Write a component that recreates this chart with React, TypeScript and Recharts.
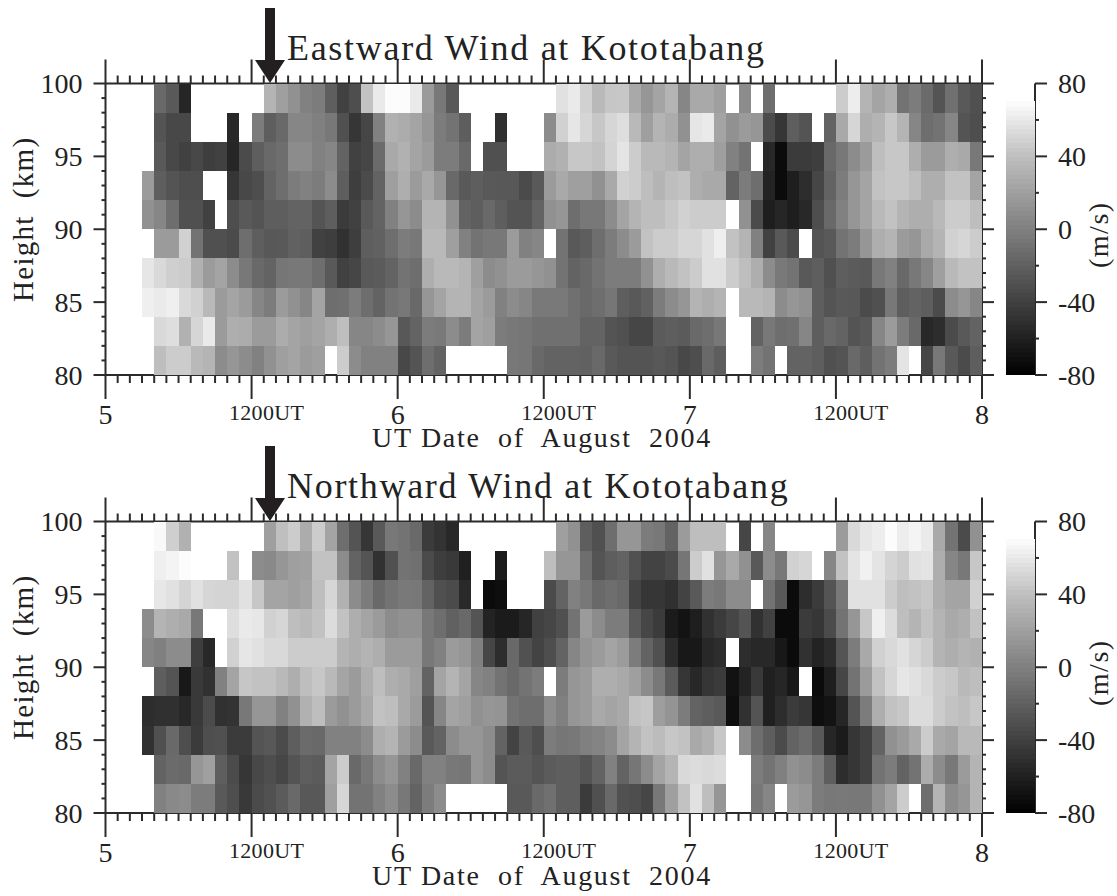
import React from 'react';
import { ScatterChart, Scatter, XAxis, YAxis } from 'recharts';

const _ = null;

// winds in m/s, one row per 2 km height bin, top row is 98-100 km, one column per hour
const eastWind: (number | null)[][] = [
  [_,_,_,_,-14,-24,-56,_,_,_,_,_, _,33,20,11,1,-2,-21,-39,-31,42,67,78, 78,67,17,-5,-24,_,_,_,_,_,_,_, _,61,67,51,36,44,45,26,14,23,33,4, 26,26,20,_,8,_,-11,_,_,_,_,_, 48,69,33,23,29,-8,-2,-13,-27,-10,-24,-30],
  [_,_,_,_,-27,-35,-35,_,_,_,-55,_, -2,-21,-14,4,4,0,-5,-30,-46,-36,1,31, 28,23,14,-2,-8,-21,_,_,-50,_,_,_, 8,51,64,54,45,54,59,36,20,33,28,11, 64,67,23,11,17,14,-33,-46,-21,-27,_,-18, 26,54,29,33,45,33,4,-11,-8,4,-27,-31],
  [_,_,_,_,-24,-35,-39,-35,-41,-39,-56,-33, -21,-14,-11,8,8,1,4,-18,-39,-36,-13,26, 31,23,17,-2,-2,-14,_,-30,-30,_,_,_, 28,31,45,45,42,53,63,48,36,36,33,23, 29,29,20,1,-8,_,-55,-73,-43,-43,-41,-14, -5,8,17,39,45,45,29,17,17,29,26,-5],
  [_,_,_,17,-21,-27,-31,-31,_,_,-46,-35, -31,-18,-11,-2,1,-2,8,-21,-41,-33,-18,20, 29,17,26,14,-14,-24,-21,-24,-25,-25,-33,-24, 17,26,20,20,11,26,51,48,39,33,39,42, 29,26,26,-18,-2,-11,-58,-73,-61,-52,-36,-18, -2,14,23,42,45,45,39,29,29,42,42,23],
  [_,_,_,11,4,-11,-30,-30,-39,_,-31,-24, -27,-21,-21,-18,-18,-27,-21,-43,-39,-24,-18,1, 14,8,33,33,11,-18,-21,-14,-21,-27,-27,-18, 11,14,-11,-5,-5,8,23,33,39,39,45,51, 48,48,48,_,11,-33,-61,-56,-61,-55,-31,-14, 1,14,23,36,42,33,29,29,36,48,48,39],
  [_,_,_,_,17,17,51,-8,-30,-30,-33,-11, -21,-25,-24,-19,-21,-39,-41,-49,-41,-21,-19,-11, -2,-5,36,36,20,1,-8,-5,-5,17,1,4, _,-8,-24,-21,-11,-2,8,17,42,48,48,54, 54,61,70,42,33,1,-39,-24,-33,_,-27,-24, -8,-2,14,29,33,17,14,26,33,51,54,48],
  [_,_,_,64,56,50,48,31,17,23,8,-5, -14,-18,-6,-5,-5,-11,-24,-39,-36,-24,-23,-18, -8,-11,29,36,36,33,20,8,11,17,17,14, 11,-8,-18,-14,-8,-2,-2,-2,11,29,36,42, 48,61,61,48,39,29,8,-4,-8,-24,-21,-30, -21,-23,-24,-5,1,-14,-5,4,20,36,42,42],
  [_,_,_,70,67,70,56,51,36,17,23,17, 4,-2,17,11,4,23,-11,-10,-2,-11,-18,-8, -5,-14,14,23,33,33,23,17,1,8,4,-4, -4,-4,-10,-14,-11,-6,-21,-24,-19,-2,8,14, 33,29,33,_,36,36,33,8,14,11,-21,-27, -24,-25,-33,-30,-5,-21,-18,-21,-33,8,14,4],
  [_,_,_,_,56,59,31,54,67,17,29,28, 17,17,28,23,20,23,29,39,4,4,8,14, -25,-18,-2,-4,8,-2,23,20,-2,-5,-6,-10, -10,-10,-10,-18,-18,-27,-30,-36,-36,-23,-21,-23, -14,-11,-5,_,_,-18,-5,-11,-10,4,-21,-14, -18,-27,-24,4,17,-2,-14,-55,-52,-33,-24,-18],
  [_,_,_,_,39,48,48,36,33,8,14,8, 1,11,20,23,17,20,_,48,8,1,1,1, -35,-27,-11,-18,_,_,_,_,_,-5,-6,-14, -18,-18,-18,-19,-14,-24,-27,-27,-27,-25,-27,-35, -31,-14,-21,_,_,-2,-8,_,-18,-18,-21,-30, -27,-14,-21,-8,-2,63,_,-36,-5,-24,-33,-21],
];

const northWind: (number | null)[][] = [
  [_,_,_,_,76,50,31,_,_,_,_,_, _,20,40,48,28,48,23,-11,-27,-46,-24,-5, -8,-14,-43,-48,-55,_,_,_,_,_,_,_, _,20,11,-21,-30,-11,14,14,-2,-5,-18,17, 39,39,39,_,-36,_,4,_,_,_,_,_, 17,56,65,69,78,69,73,67,26,-8,-33,11],
  [_,_,_,_,70,73,78,_,_,_,42,_, 8,6,14,20,21,42,42,8,-18,-27,-49,-30, -8,-10,-33,-41,-44,-60,_,_,-63,_,_,_, 39,14,14,-11,-27,-21,-18,-29,-38,-38,-33,-6, 48,61,14,26,11,-24,8,-5,51,54,_,4, 42,63,71,63,53,48,61,63,29,4,-5,45],
  [_,_,_,_,65,61,53,61,54,53,53,61, 45,23,23,20,23,39,54,31,8,-2,-14,-8, -4,-5,-18,-30,-33,-54,_,-73,-71,_,_,_, -33,-18,1,-5,-14,-11,-14,-38,-46,-46,-50,-38, -24,-2,-5,8,8,_,-8,-24,-73,-52,-43,-27, -5,61,61,61,48,39,42,45,29,23,23,51],
  [_,_,_,8,33,29,26,-5,_,_,59,67, 65,51,54,39,36,42,58,42,29,23,17,8, 11,11,-5,-11,-19,-14,-27,-58,-63,-63,-56,-39, -36,-30,-8,17,8,-2,-2,-24,-36,-43,-63,-68, -61,-49,-43,-36,-27,-49,-39,-73,-73,-43,-46,-33, -8,14,45,70,58,39,33,42,33,26,29,42],
  [_,_,_,4,0,8,8,-41,-55,_,51,64, 61,56,56,48,48,48,48,33,29,33,29,17, 17,17,-5,1,17,14,1,-36,-52,-14,-29,-38, -31,-18,4,13,17,23,17,-2,-18,-30,-52,-65, -65,-55,-52,_,-52,-55,-55,-65,-73,-49,-58,-52, -27,-2,26,51,56,61,54,48,33,29,33,31],
  [_,_,_,_,-21,-27,-65,-44,-49,1,23,44, 42,42,36,29,39,45,36,23,17,29,39,29, 26,20,-18,23,33,23,4,1,-8,-14,-8,-2, _,-2,14,17,29,29,26,20,8,-5,-23,-46, -55,-46,-43,-69,-58,-44,-60,-56,-65,_,-73,-61, -36,-8,17,42,54,64,61,56,48,45,36,39],
  [_,_,_,-52,-50,-50,-55,-44,-33,-49,-48,-5, 14,14,1,11,31,39,17,11,17,26,42,39, 26,17,-27,4,23,20,11,14,13,-8,-11,-11, 8,0,14,17,26,23,26,42,44,19,13,-2, -18,-21,-24,-71,-49,-27,-60,-52,-43,-46,-71,-68, -56,-27,-2,29,42,45,58,58,48,42,39,45],
  [_,_,_,-49,-30,-14,-31,-43,-31,-30,-43,-43, -27,-25,-33,-21,-13,-14,1,1,1,8,29,33, 17,8,-24,-18,8,14,14,8,-18,-38,-24,-31, -2,-6,-5,0,3,8,23,33,42,38,45,42, 26,31,45,_,8,-11,-21,-33,-18,-13,-25,-56, -63,-46,-39,-18,11,17,26,48,26,23,36,36],
  [_,_,_,_,-18,-13,-14,14,20,-21,-33,-46, -35,-31,-36,-27,-21,-23,23,48,-14,-5,8,14, 1,-14,1,1,-5,-6,14,8,-27,-23,-23,-27, -23,-21,-21,-27,-18,1,-18,-6,8,23,33,56, 58,56,58,_,_,-2,-8,0,11,8,-2,-21, -52,-46,-39,-8,-2,-18,-8,28,8,-5,17,33],
  [_,_,_,_,1,6,8,-2,-2,-24,-31,-44, -33,-29,-23,-14,-25,-25,20,54,-8,-8,1,8, -5,-18,-2,8,_,_,_,_,_,-24,-24,-14, -10,-21,-21,-43,-30,-14,-29,-31,-36,-5,20,42, 61,39,14,_,_,-5,4,_,17,14,-2,-5, -4,-5,-5,11,23,48,_,-11,33,8,14,33],
];

const heightBins = [99, 97, 95, 93, 91, 89, 87, 85, 83, 81];
const hourTicks = Array.from({ length: 73 }, (_v, i) => i);
const kmTicks = Array.from({ length: 21 }, (_v, i) => 80 + i);
const dayLabels: Record<number, string> = { 0: '5', 24: '6', 48: '7', 72: '8' };
const noonLabels: Record<number, string> = { 12: '1200UT', 36: '1200UT', 60: '1200UT' };
const barTicks = [-80, -60, -40, -20, 0, 20, 40, 60, 80];
const barLabels = [-80, -40, 0, 40, 80];
// the top of the colour bar fades into the page, so the bands stop at 70
const barBands = [
  -80, -77.5, -75, -72.5, -70, -67.5, -65, -62.5, -60, -57.5, -55, -52.5, -50, -47.5, -45, -42.5,
  -40, -37.5, -35, -32.5, -30, -27.5, -25, -22.5, -20, -17.5, -15, -12.5, -10, -7.5, -5, -2.5,
  0, 2.5, 5, 7.5, 10, 12.5, 15, 17.5, 20, 22.5, 25, 27.5, 30, 32.5, 35, 37.5,
  40, 42.5, 45, 47.5, 50, 52.5, 55, 57.5, 60, 62.5, 65, 67.5,
];

const SERIF = '"Liberation Serif", serif';
const INK = '#2b2b2b';
const TEXT = '#222';
const PLOT_W = 876.5;
const PLOT_H = 291.5;
const CHART_H = 456;

const shade = (v: number) => {
  const g = Math.round(((v + 80) / 160) * 255);
  return `rgb(${g},${g},${g})`;
};

const makeCell = (w: number, h: number) => (props: any) => (
  <rect
    x={props.cx - w / 2}
    y={props.cy - h / 2}
    width={w}
    height={h}
    fill={shade(props.payload.v)}
    shapeRendering="crispEdges"
  />
);

const toCells = (rows: (number | null)[][]) => {
  const cells: { hour: number; km: number; v: number }[] = [];
  rows.forEach((row, r) =>
    row.forEach((v, c) => {
      if (v !== null) cells.push({ hour: c + 0.5, km: heightBins[r], v });
    })
  );
  return cells;
};

const BottomTick = ({ x, y, payload }: any) => {
  const h = payload.value;
  const major = h % 12 === 0;
  return (
    <g>
      <line x1={x} x2={x} y1={y} y2={y + (major ? 24 : 8)} stroke={INK} strokeWidth={2} />
      {dayLabels[h] && (
        <text x={x} y={y + 49} textAnchor="middle" fontFamily={SERIF} fontSize={28} fill={TEXT}>
          {dayLabels[h]}
        </text>
      )}
      {noonLabels[h] && (
        <text x={x + 15} y={y + 45} textAnchor="middle" fontFamily={SERIF} fontSize={22} letterSpacing={0.3} fill={TEXT}>
          {noonLabels[h]}
        </text>
      )}
    </g>
  );
};

const TopTick = ({ x, y, payload }: any) => (
  <line x1={x} x2={x} y1={y} y2={y - (payload.value % 12 === 0 ? 24 : 8)} stroke={INK} strokeWidth={2} />
);

const LeftTick = ({ x, y, payload }: any) => {
  const major = payload.value % 5 === 0;
  return (
    <g>
      <line x1={x} x2={x - (major ? 12 : 4)} y1={y} y2={y} stroke={INK} strokeWidth={2} />
      {major && (
        <text x={x - 23} y={y + 9.5} textAnchor="end" fontFamily={SERIF} fontSize={28} fill={TEXT}>
          {payload.value}
        </text>
      )}
    </g>
  );
};

const RightTick = ({ x, y, payload }: any) => (
  <line x1={x} x2={x + (payload.value % 5 === 0 ? 12 : 4)} y1={y} y2={y} stroke={INK} strokeWidth={2} />
);

const BarTick = ({ x, y, payload }: any) => {
  const major = barLabels.includes(payload.value);
  return (
    <g>
      <line x1={x} x2={x + (major ? 12 : 4)} y1={y} y2={y} stroke={INK} strokeWidth={2} />
      {major && (
        <text x={x + 23} y={y + 9.5} fontFamily={SERIF} fontSize={28} fill={TEXT}>
          {payload.value}
        </text>
      )}
    </g>
  );
};

const Panel = ({ top, title, rows }: { top: number; title: string; rows: (number | null)[][] }) => {
  const axisLine = { stroke: INK, strokeWidth: 2 };
  const cells = toCells(rows);
  return (
    <div style={{ position: 'absolute', left: 0, top, width: 1117, height: CHART_H }}>
      <ScatterChart
        width={1117}
        height={CHART_H}
        margin={{ top: 82.5, left: 104.5, right: 1117 - 105.5 - PLOT_W - 1, bottom: CHART_H - 83.5 - PLOT_H - 1 }}
      >
        <XAxis xAxisId="bottom" type="number" dataKey="hour" domain={[0, 72]} ticks={hourTicks} interval={0}
          height={1} tickSize={0} tickMargin={0} tickLine={false} axisLine={axisLine} tick={BottomTick} />
        <XAxis xAxisId="top" orientation="top" type="number" dataKey="hour" domain={[0, 72]} ticks={hourTicks} interval={0}
          height={1} tickSize={0} tickMargin={0} tickLine={false} axisLine={axisLine} tick={TopTick} />
        <YAxis yAxisId="left" type="number" dataKey="km" domain={[80, 100]} ticks={kmTicks} interval={0}
          width={1} tickSize={0} tickMargin={0} tickLine={false} axisLine={axisLine} tick={LeftTick} />
        <YAxis yAxisId="right" orientation="right" type="number" dataKey="km" domain={[80, 100]} ticks={kmTicks} interval={0}
          width={1} tickSize={0} tickMargin={0} tickLine={false} axisLine={axisLine} tick={RightTick} />
        <Scatter
          xAxisId="bottom"
          yAxisId="left"
          data={cells}
          isAnimationActive={false}
          shape={makeCell(PLOT_W / 72, PLOT_H / 10)}
        />
        {/* draws nothing, it only keeps the top and right axes alive */}
        <Scatter xAxisId="top" yAxisId="right" data={cells} isAnimationActive={false} shape={() => <g />} />
      </ScatterChart>

      <div style={{ position: 'absolute', left: 1000, top: 0 }}>
        <ScatterChart width={117} height={CHART_H} margin={{ top: 83.5, left: 6, right: 81, bottom: CHART_H - 83.5 - PLOT_H }}>
          <XAxis type="number" dataKey="x" domain={[0, 1]} hide />
          <YAxis orientation="right" type="number" dataKey="level" domain={[-80, 80]} ticks={barTicks} interval={0}
            width={1} tickSize={0} tickMargin={0} tickLine={false} axisLine={axisLine} tick={BarTick} />
          <Scatter
            data={barBands.map((b) => ({ x: 0.5, level: b + 1.25, v: b + 1.25 + (b > 40 ? (b - 40) * 0.3 : 0) }))}
            isAnimationActive={false}
            shape={makeCell(29, PLOT_H / 64 + 0.5)}
          />
        </ScatterChart>
      </div>

      <svg width={1117} height={CHART_H} style={{ position: 'absolute', left: 0, top: 0, pointerEvents: 'none' }}>
        <path d="M265 8 H275 V60 H285 L270 83 L255 60 H265 Z" fill="#231f20" />
        <text x={287} y={60} fontFamily={SERIF} fontSize={36} letterSpacing={1.7} fill={TEXT}>{title}</text>
        <text x={372} y={447} fontFamily={SERIF} fontSize={28} letterSpacing={1.7} fill={TEXT} style={{ whiteSpace: 'pre' }}>
          UT Date  of  August  2004
        </text>
        <text transform="translate(33 302) rotate(-90)" fontFamily={SERIF} fontSize={29} letterSpacing={1.3} fill={TEXT} style={{ whiteSpace: 'pre' }}>
          Height  (km)
        </text>
        <text transform="translate(1108 268) rotate(-90)" fontFamily={SERIF} fontSize={28} letterSpacing={1.5} fill={TEXT}>
          (m/s)
        </text>
      </svg>
    </div>
  );
};

export default function App() {
  return (
    <div style={{ position: 'absolute', left: 0, top: 0, width: 1117, height: 896, background: '#fff' }}>
      <Panel top={0} title="Eastward Wind at Kototabang" rows={eastWind} />
      <Panel top={438} title="Northward Wind at Kototabang" rows={northWind} />
    </div>
  );
}
